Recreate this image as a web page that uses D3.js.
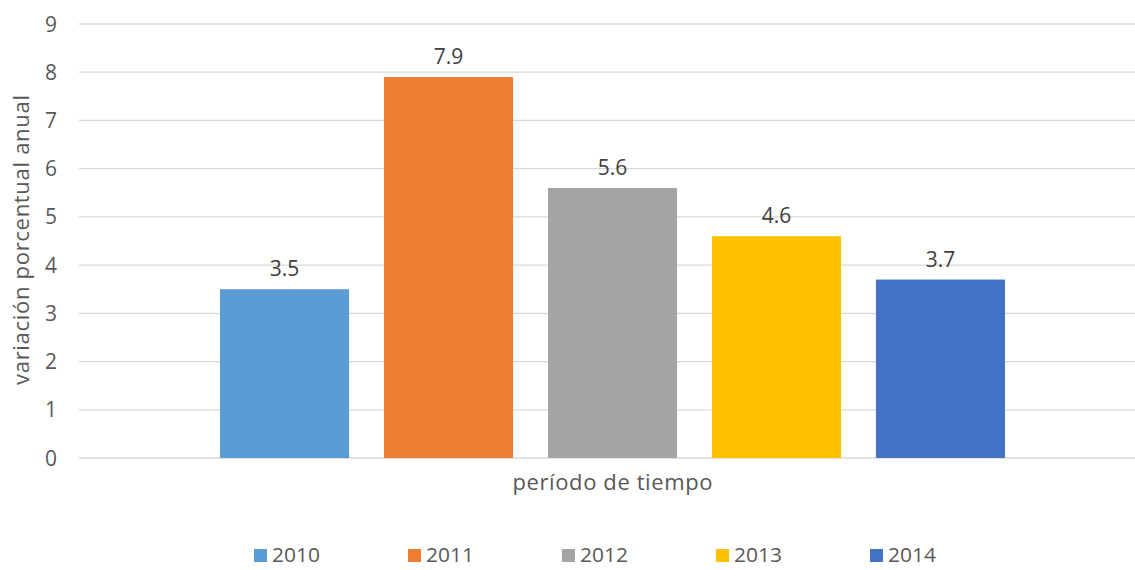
<!DOCTYPE html>
<meta charset="utf-8">
<style>
body { margin:0; background:#fff; }
text { font-family:'Open Sans', 'Noto Sans', sans-serif; }
</style>
<svg width="1135" height="570"></svg>
<script src="https://d3js.org/d3.v7.min.js"></script>
<script>

var years = ['2010', '2011', '2012', '2013', '2014'];
var values = [3.5, 7.9, 5.6, 4.6, 3.7];
var colors = ['#5B9BD5', '#ED7D31', '#A5A5A5', '#FFC000', '#4472C4'];
var yTicks = [0, 1, 2, 3, 4, 5, 6, 7, 8, 9];
var category = 'período de tiempo';
var yTitle = 'variación porcentual anual';

var svg = d3.select('svg');

var plotLeft = 79, plotRight = 1146, plotTop = 24, plotBottom = 458;

var x = d3.scaleBand()
    .domain(years)
    .range([plotLeft, plotRight])
    .paddingInner(0.213)
    .paddingOuter(0.86);

var y = d3.scaleLinear()
    .domain([0, 9])
    .range([plotBottom, plotTop]);

// gridlines
svg.append('g')
    .selectAll('line')
    .data(yTicks)
    .enter().append('line')
    .attr('x1', plotLeft)
    .attr('x2', 1135)
    .attr('y1', function(d) { return y(d) })
    .attr('y2', function(d) { return y(d) })
    .attr('stroke', '#D9D9D9')
    .attr('stroke-width', 1.3)

// y tick labels
svg.append('g')
    .selectAll('text')
    .data(yTicks)
    .enter().append('text')
    .attr('x', 57)
    .attr('y', function(d) { return y(d) })
    .attr('dy', '0.36em')
    .attr('text-anchor', 'end')
    .attr('font-size', 21)
    .attr('fill', '#595959')
    .text(function(d) { return d })

// bars
svg.append('g')
    .selectAll('rect')
    .data(values)
    .enter().append('rect')
    .attr('x', function(d, i) { return x(years[i]) })
    .attr('width', x.bandwidth())
    .attr('y', function(d) { return y(d) })
    .attr('height', function(d) { return y(0) - y(d) })
    .attr('fill', function(d, i) { return colors[i] })

// value labels
svg.append('g')
    .selectAll('text')
    .data(values)
    .enter().append('text')
    .attr('x', function(d, i) { return x(years[i]) + x.bandwidth() / 2 })
    .attr('y', function(d) { return y(d) - 13 })
    .attr('text-anchor', 'middle')
    .attr('font-size', 21)
    .attr('fill', '#404040')
    .text(function(d) { return d.toFixed(1) })

// axis titles
svg.append('text')
    .attr('x', (plotLeft + plotRight) / 2)
    .attr('y', 490)
    .attr('text-anchor', 'middle')
    .attr('font-size', 22)
    .attr('textLength', 200)
    .attr('fill', '#595959')
    .text(category)

svg.append('text')
    .attr('transform', 'translate(29,' + 240 + ') rotate(-90)')
    .attr('text-anchor', 'middle')
    .attr('font-size', 22)
    .attr('textLength', 290)
    .attr('fill', '#595959')
    .text(yTitle)

// legend
var legend = svg.append('g')
    .selectAll('g')
    .data(years)
    .enter().append('g')
    .attr('transform', function(d, i) { return 'translate(' + (254 + i * 154) + ',548)' })

legend.append('rect')
    .attr('y', 1)
    .attr('width', 13)
    .attr('height', 13)
    .attr('fill', function(d, i) { return colors[i] })

legend.append('text')
    .attr('x', 18)
    .attr('y', 14)
    .attr('font-size', 20)
    .attr('textLength', 48)
    .attr('lengthAdjust', 'spacingAndGlyphs')
    .attr('fill', '#595959')
    .text(function(d) { return d })

</script>
